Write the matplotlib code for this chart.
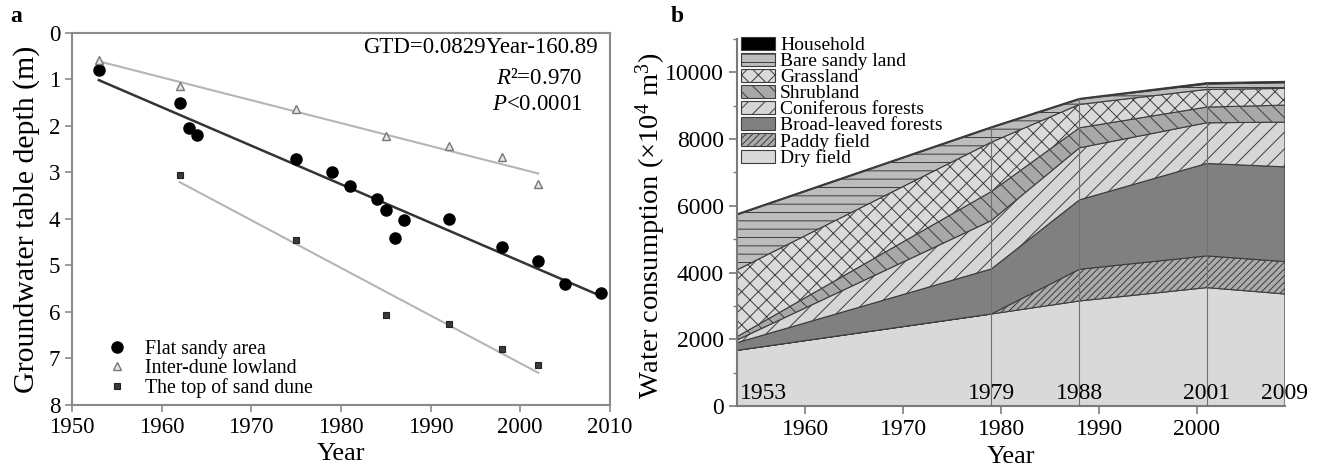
import matplotlib
matplotlib.use('Agg')
import matplotlib.pyplot as plt
from matplotlib.ticker import MultipleLocator
import numpy as np

plt.rcParams['font.family'] = ['Liberation Serif', 'DejaVu Serif']
plt.rcParams['mathtext.fontset'] = 'custom'
plt.rcParams['mathtext.rm'] = 'Liberation Serif'
plt.rcParams['mathtext.it'] = 'Liberation Serif:italic'
plt.rcParams['hatch.linewidth'] = 0.7

# ---------------- Panel a data ----------------
flat_years = [1953, 1962, 1963, 1964, 1975, 1979, 1981, 1984, 1985, 1986, 1987, 1992, 1998, 2002, 2005, 2009]
flat_depth = [0.80, 1.50, 2.05, 2.20, 2.70, 3.00, 3.30, 3.57, 3.80, 4.40, 4.03, 4.00, 4.60, 4.90, 5.40, 5.60]
lowland_years = [1953, 1962, 1975, 1985, 1992, 1998, 2002]
lowland_depth = [0.59, 1.14, 1.64, 2.21, 2.43, 2.66, 3.24]
dune_years = [1962, 1975, 1985, 1992, 1998, 2002]
dune_depth = [3.06, 4.46, 6.07, 6.25, 6.80, 7.15]
flat_slope = 0.0829
flat_intercept = -160.89
a_xticks = [1950, 1960, 1970, 1980, 1990, 2000, 2010]
a_yticks = [0, 1, 2, 3, 4, 5, 6, 7, 8]

# ---------------- Panel b data ----------------
b_years = [1953, 1979, 1988, 2001, 2009]
dry_field = [1670, 2760, 3150, 3550, 3360]
paddy_field = [0, 0, 950, 950, 970]
broad_leaved = [230, 1350, 2080, 2770, 2840]
coniferous = [80, 1450, 1560, 1220, 1340]
shrubland = [100, 870, 600, 470, 510]
grassland = [2000, 1480, 700, 530, 500]
bare_sandy = [1650, 430, 150, 160, 170]
household = [30, 30, 30, 40, 40]
b_labels = ['Dry field', 'Paddy field', 'Broad-leaved forests', 'Coniferous forests',
            'Shrubland', 'Grassland', 'Bare sandy land', 'Household']
b_xticks = [1960, 1970, 1980, 1990, 2000]
b_yticks = [0, 2000, 4000, 6000, 8000, 10000]

fig = plt.figure(figsize=(13.25, 4.70), dpi=100)
axa = fig.add_axes([0.0543, 0.1383, 0.406, 0.7915])
axb = fig.add_axes([0.5562, 0.136, 0.4136, 0.781])

# ---------------- Panel a ----------------
fx = np.array([min(flat_years), max(flat_years)])
axa.plot(fx, flat_slope * fx + flat_intercept, color='#333333', lw=1.8, zorder=2)
lc = np.polyfit(lowland_years, lowland_depth, 1)
lx = np.array([min(lowland_years), max(lowland_years)])
axa.plot(lx, np.polyval(lc, lx), color='#b5b5b5', lw=1.5, zorder=2)
dc = np.polyfit(dune_years, dune_depth, 1)
dx = np.array([min(dune_years), max(dune_years)])
axa.plot(dx, np.polyval(dc, dx), color='#b5b5b5', lw=1.5, zorder=2)

axa.plot(flat_years, flat_depth, 'o', color='black', ms=8, ls='none',
         label='Flat sandy area', zorder=3)
axa.plot(lowland_years, lowland_depth, '^', mfc='#e6e6e6', mec='#777777', mew=1.0,
         ms=5.5, ls='none', label='Inter-dune lowland', zorder=3)
axa.plot(dune_years, dune_depth, 's', mfc='#3a3a3a', mec='#222222', mew=0.8,
         ms=5, ls='none', label='The top of sand dune', zorder=3)

axa.set_xlim(1950, 2010)
axa.set_ylim(8, 0)
axa.set_xticks(a_xticks)
axa.set_yticks(a_yticks)
for s in axa.spines.values():
    s.set_color('#8a8a8a')
    s.set_linewidth(1.5)
axa.tick_params(direction='out', length=5, color='#8a8a8a', width=1.2, labelsize=16.5)
axa.set_xlabel('Year', fontsize=19, labelpad=4)
axa.set_ylabel('Groundwater table depth (m)', fontsize=21.5, labelpad=6)

axa.text(0.978, 0.962, 'GTD=0.0829Year-160.89', transform=axa.transAxes,
         ha='right', va='center', fontsize=16.5)
axa.text(0.948, 0.879, r'$R$²=0.970', transform=axa.transAxes,
         ha='right', va='center', fontsize=16.5)
axa.text(0.948, 0.809, r'$P$<0.0001', transform=axa.transAxes,
         ha='right', va='center', fontsize=16.5)

axa.legend(loc='lower left', bbox_to_anchor=(0.065, 0.02), frameon=False,
           fontsize=14.3, handlelength=1.0, handletextpad=0.9, labelspacing=0.0,
           borderpad=0, borderaxespad=0)

# ---------------- Panel b ----------------
layers = [dry_field, paddy_field, broad_leaved, coniferous, shrubland, grassland, bare_sandy, household]
colors = ['#d9d9d9', '#ababab', '#808080', '#d6d6d6', '#a8a8a8', '#dadada', '#bcbcbc', '#000000']
hatches = ['', '/////', '', '//', '\\\\', 'xx', '--', '']
polys = axb.stackplot(b_years, *layers, colors=colors, hatch=hatches, labels=b_labels,
                      edgecolor='#3c3c3c', linewidth=0.8)
total = np.sum(np.array(layers), axis=0)
axb.vlines(b_years[1:], 0, total[1:], colors='#707070', lw=0.8, zorder=3)

axb.set_xlim(1953, 2009)
axb.set_ylim(0, 11000)
axb.set_xticks(b_xticks)
axb.set_yticks(b_yticks)
axb.yaxis.set_minor_locator(MultipleLocator(1000))
axb.spines['top'].set_visible(False)
axb.spines['right'].set_visible(False)
for s in ['left', 'bottom']:
    axb.spines[s].set_color('#7a7a7a')
    axb.spines[s].set_linewidth(1.5)
axb.tick_params(which='major', direction='out', length=6, color='#7a7a7a', width=1.2, labelsize=17)
axb.tick_params(which='minor', direction='out', length=3, color='#7a7a7a', width=1.0)
axb.set_xlabel('Year', fontsize=19, labelpad=4)
axb.set_ylabel(r'Water consumption (×10$^4$ m$^3$)', fontsize=20.5)
axb.yaxis.set_label_coords(-0.126, 0.49)

for i, yr in enumerate(b_years):
    if i == 0:
        axb.text(yr + 0.3, 60, str(yr), ha='left', va='bottom', fontsize=17, zorder=4)
    else:
        axb.text(yr, 60, str(yr), ha='center', va='bottom', fontsize=17, zorder=4)

handles = list(polys)[::-1]
axb.legend(handles=handles, labels=b_labels[::-1], loc='upper left',
           bbox_to_anchor=(0.008, 1.005), frameon=False, fontsize=14,
           handlelength=1.75, handleheight=0.65, handletextpad=0.25,
           labelspacing=-0.07, borderpad=0, borderaxespad=0)

fig.text(0.008, 0.965, 'a', fontsize=17, fontweight='bold', ha='left', va='center')
fig.text(0.506, 0.965, 'b', fontsize=17, fontweight='bold', ha='left', va='center')

fig.savefig('out.png', dpi=100)
